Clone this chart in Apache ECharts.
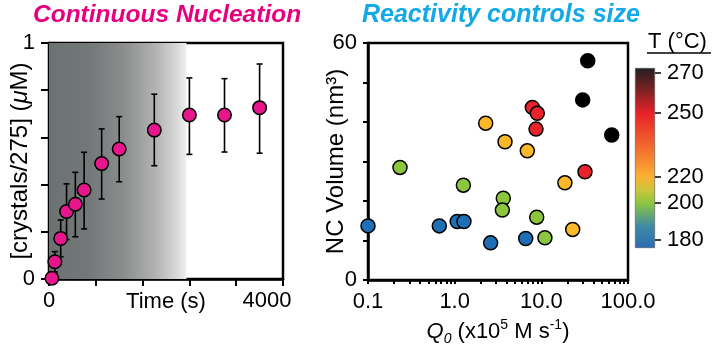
<!DOCTYPE html>
<html>
<head>
<meta charset="utf-8">
<script src="https://cdn.jsdelivr.net/npm/echarts@6/dist/echarts.min.js"></script>
<style>html,body{margin:0;padding:0;background:#fff;}#c{width:720px;height:352px;}</style>
</head>
<body>
<div id="c"></div>
<script>
// ---- Left panel data: continuous nucleation ----
const timeS   = [50, 100, 200, 300, 450, 600, 900, 1200, 1800, 2400, 3000, 3600];
const conc    = [0.003, 0.073, 0.172, 0.286, 0.317, 0.377, 0.489, 0.551, 0.631, 0.695, 0.695, 0.726];
const concLo  = [0.0, 0.030, 0.094, 0.167, 0.179, 0.212, 0.339, 0.412, 0.480, 0.528, 0.538, 0.533];
const concHi  = [0.01, 0.116, 0.250, 0.403, 0.452, 0.537, 0.636, 0.688, 0.783, 0.852, 0.849, 0.911];
const shadeEnd = 2350;
const timeTicks = [0, 800, 1600, 2400, 3200, 4000];
const timeLabels = [0, 4000];
const concTicks = [0, 0.2, 0.4, 0.6, 0.8, 1];
const concLabels = [0, 1];

// ---- Right panel data: reactivity vs size ----
const q0   = [0.1, 0.665, 1.07, 1.28, 2.6, 6.6,
              0.234, 1.26, 3.64, 3.55, 8.84, 11.0,
              2.28, 3.81, 6.89, 18.7, 23.0,
              7.87, 8.98, 8.68, 31.9,
              34.3, 30.0, 64.9];
const vol  = [13.7, 13.7, 14.8, 14.8, 9.4, 10.5,
              28.5, 24.0, 20.7, 17.7, 15.9, 10.7,
              39.7, 35.0, 32.7, 24.6, 12.8,
              43.7, 42.2, 38.2, 27.4,
              55.5, 45.6, 36.7];
const tempC = [180, 180, 180, 180, 180, 180,
               200, 200, 200, 200, 200, 200,
               220, 220, 220, 220, 220,
               250, 250, 250, 250,
               270, 270, 270];
const volTicks = [0, 10, 20, 30, 40, 50, 60];
const volLabels = [0, 60];
const cbarTemps = [180, 200, 220, 250, 270];

// ---- styles / layout ----
const FONT = 'Liberation Sans, Arial, Helvetica, sans-serif';
const tempColor = {180: '#1f6fb5', 200: '#8cc63e', 220: '#fbb829', 250: '#e8232b', 270: '#000000'};
const cbarPos = [0.044, 0.25, 0.394, 0.749, 0.971];   // colour-bar label positions (fraction of bar height)
const cbarGradient = [
  {offset: 0.0, color: '#2b6bb2'}, {offset: 0.12, color: '#3f8aa5'},
  {offset: 0.25, color: '#8dc63f'}, {offset: 0.32, color: '#c9c63a'},
  {offset: 0.394, color: '#f9b233'}, {offset: 0.55, color: '#f26f2e'},
  {offset: 0.749, color: '#e8202a'}, {offset: 0.88, color: '#7a2222'},
  {offset: 1.0, color: '#231f20'}
];
const minorQ = [];
[0.1, 1, 10].forEach(d => { for (let k = 1; k <= 9; k++) minorQ.push(+(d * k).toPrecision(3)); });
minorQ.push(100);

const chart = echarts.init(document.getElementById('c'), null, {renderer: 'canvas'});
const axLine = {show: true, lineStyle: {color: '#000', width: 2.5}};
const lbl = {fontSize: 22, color: '#000', fontFamily: FONT};

const option = {
  animation: false,
  backgroundColor: '#fff',
  textStyle: {fontFamily: FONT},
  title: [
    {text: 'Continuous Nucleation', left: 33, top: 3, padding: 0,
     textStyle: {color: '#e6007e', fontSize: 24.5, fontStyle: 'italic', fontWeight: 'bold', fontFamily: FONT}},
    {text: 'Reactivity controls size', left: 362, top: 3, padding: 0,
     textStyle: {color: '#12a9e6', fontSize: 25, fontStyle: 'italic', fontWeight: 'bold', fontFamily: FONT}},
    {text: 'T (°C)', left: 648, top: 31, padding: 0,
     textStyle: {color: '#000', fontSize: 22, fontWeight: 'normal', fontFamily: FONT}}
  ],
  graphic: [
    {type: 'line', shape: {x1: 647, y1: 53, x2: 711, y2: 53}, style: {stroke: '#000', lineWidth: 1.5}}
  ],
  grid: [
    {left: 49, top: 43, width: 234, height: 236, show: true, borderColor: '#000', borderWidth: 2.5, backgroundColor: 'transparent'},
    {left: 368, top: 43, width: 260, height: 237, show: true, borderColor: '#000', borderWidth: 2.5, backgroundColor: 'transparent'},
    {left: 635, top: 68, width: 20, height: 180}
  ],
  xAxis: [
    {gridIndex: 0, type: 'value', min: 0, max: 4000, interval: 800,
     axisLine: axLine,
     axisTick: {show: true, inside: false, length: 7, customValues: timeTicks, lineStyle: {color: '#000', width: 2}},
     splitLine: {show: false},
     axisLabel: Object.assign({margin: 11, customValues: timeLabels,
       formatter: v => v === 4000 ? '{s|4000}' : String(v),
       rich: {s: {fontSize: 22, color: '#000', fontFamily: FONT, padding: [0, 32, 0, 0]}}}, lbl),
     name: 'Time (s)', nameLocation: 'middle', nameGap: 12, nameMoveOverlap: false,
     nameTextStyle: lbl},
    {gridIndex: 1, type: 'log', logBase: 10, min: 0.1, max: 100,
     axisLine: axLine,
     axisTick: {show: true, inside: false, length: 4, customValues: minorQ, lineStyle: {color: '#000', width: 2}},
     splitLine: {show: false},
     axisLabel: Object.assign({margin: 11, formatter: v => Number(v).toFixed(1)}, lbl),
     name: '{qi|Q}{sub|0} (x10{sup|5} M s{sup|-1})', nameLocation: 'middle', nameGap: 38,
     nameTextStyle: {fontSize: 22, color: '#000', fontFamily: FONT, lineHeight: 28,
       rich: {
         qi: {fontSize: 22, fontStyle: 'italic', fontFamily: FONT, lineHeight: 28},
         sub: {fontSize: 14, fontStyle: 'italic', fontFamily: FONT, verticalAlign: 'bottom', lineHeight: 28},
         sup: {fontSize: 14, fontFamily: FONT, verticalAlign: 'top', lineHeight: 28}
       }}},
    {gridIndex: 2, type: 'category', data: ['T'], show: false}
  ],
  yAxis: [
    {gridIndex: 0, type: 'value', min: 0, max: 1, interval: 0.2,
     axisLine: axLine,
     axisTick: {show: true, inside: false, length: 8, customValues: concTicks, lineStyle: {color: '#000', width: 2}},
     splitLine: {show: false},
     axisLabel: Object.assign({margin: 14, customValues: concLabels, formatter: v => String(v)}, lbl),
     name: '[crystals/275] ({it|μ}M)', nameLocation: 'middle', nameGap: 17, nameMoveOverlap: false,
     nameTextStyle: {fontSize: 24, color: '#000', fontFamily: FONT,
       rich: {it: {fontSize: 24, fontStyle: 'italic', fontFamily: FONT}}}},
    {gridIndex: 1, type: 'value', min: 0, max: 60, interval: 10,
     axisLine: axLine,
     axisTick: {show: true, inside: false, length: 5, customValues: volTicks, lineStyle: {color: '#000', width: 2}},
     splitLine: {show: false},
     axisLabel: Object.assign({margin: 11, customValues: volLabels, formatter: v => String(v)}, lbl),
     name: 'NC Volume (nm³)', nameLocation: 'middle', nameGap: 20, nameMoveOverlap: false,
     nameTextStyle: {fontSize: 24, color: '#000', fontFamily: FONT}},
    {gridIndex: 2, type: 'value', min: 0, max: 1, position: 'right',
     axisLine: {show: false}, splitLine: {show: false},
     axisTick: {show: true, length: 6, customValues: cbarPos, lineStyle: {color: '#000', width: 1.5}},
     axisLabel: Object.assign({show: true, margin: 12, customValues: cbarPos,
       formatter: v => {
         let best = 0;
         cbarPos.forEach((p, i) => { if (Math.abs(p - v) < Math.abs(cbarPos[best] - v)) best = i; });
         return String(cbarTemps[best]);
       }}, lbl)}
  ],
  series: [
    {type: 'line', xAxisIndex: 0, yAxisIndex: 0, data: [[0, 0]], showSymbol: false, symbol: 'none',
     lineStyle: {width: 0}, z: 1, silent: true,
     markArea: {silent: true,
       itemStyle: {color: {type: 'linear', x: 0, y: 0, x2: 1, y2: 0, colorStops: [
         {offset: 0, color: '#6c7171'}, {offset: 0.3, color: '#747878'},
         {offset: 0.55, color: '#8c8e8e'}, {offset: 0.78, color: '#b3b3b3'},
         {offset: 0.93, color: '#d9d9d9'}, {offset: 1, color: '#efefef'}]}},
       data: [[{xAxis: 0, yAxis: 0}, {xAxis: shadeEnd, yAxis: 1}]]}},
    {type: 'custom', xAxisIndex: 0, yAxisIndex: 0, z: 2, clip: false,
     data: timeS.map((t, i) => [t, concLo[i], concHi[i]]),
     encode: {x: 0, y: [1, 2]},
     renderItem: (params, api) => {
       const x = api.value(0);
       const pLo = api.coord([x, api.value(1)]);
       const pHi = api.coord([x, api.value(2)]);
       const hw = 3;
       const st = {stroke: '#000', lineWidth: 1.6};
       return {type: 'group', children: [
         {type: 'line', shape: {x1: pLo[0], y1: pLo[1], x2: pHi[0], y2: pHi[1]}, style: st},
         {type: 'line', shape: {x1: pHi[0] - hw, y1: pHi[1], x2: pHi[0] + hw, y2: pHi[1]}, style: st},
         {type: 'line', shape: {x1: pLo[0] - hw, y1: pLo[1], x2: pLo[0] + hw, y2: pLo[1]}, style: st}
       ]};
     }},
    {type: 'scatter', xAxisIndex: 0, yAxisIndex: 0, z: 3, clip: false,
     data: timeS.map((t, i) => [t, conc[i]]),
     symbolSize: 13.5,
     itemStyle: {color: '#e8168c', borderColor: '#000', borderWidth: 1.5, opacity: 1}},
    {type: 'scatter', xAxisIndex: 1, yAxisIndex: 1, z: 3, clip: false,
     data: q0.map((q, i) => ({value: [q, vol[i]], itemStyle: {color: tempColor[tempC[i]]}})),
     symbolSize: 14,
     itemStyle: {borderColor: '#000', borderWidth: 1.5, opacity: 1}},
    {type: 'bar', xAxisIndex: 2, yAxisIndex: 2, data: [1], barWidth: '100%', silent: true,
     itemStyle: {borderColor: '#555', borderWidth: 0.6,
       color: {type: 'linear', x: 0, y: 1, x2: 0, y2: 0, colorStops: cbarGradient}}}
  ]
};
chart.setOption(option);
</script>
</body>
</html>
